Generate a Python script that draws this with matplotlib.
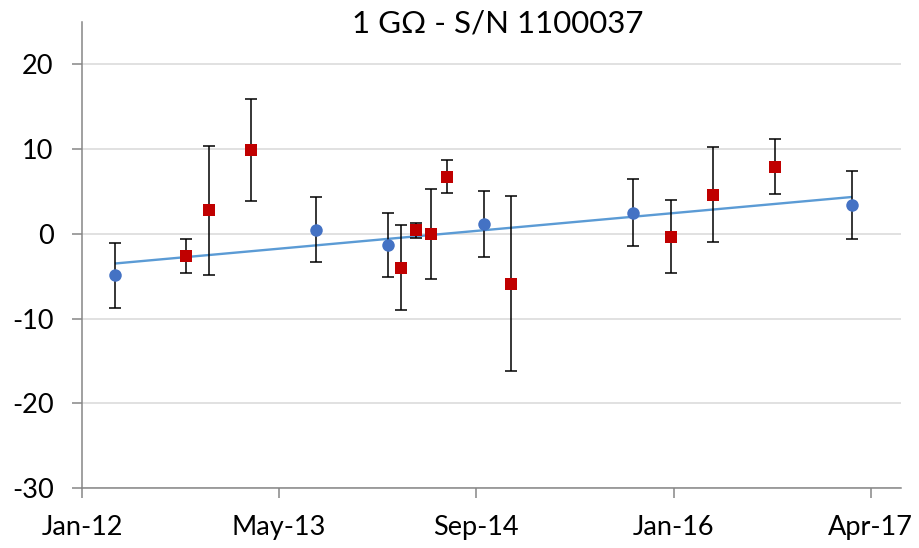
import matplotlib
matplotlib.use("Agg")
import matplotlib.pyplot as plt
import matplotlib.dates as mdates
import numpy as np
import datetime as dt

# ---- data ----
blue_dates = ["2012-04-11", "2013-08-14", "2014-02-05", "2014-09-27", "2015-09-24", "2017-03-11"]
blue_vals = [-4.9, 0.5, -1.33, 1.14, 2.5, 3.4]
blue_err = [3.85, 3.85, 3.75, 3.9, 3.9, 4.0]

red_dates = ["2012-09-30", "2012-11-25", "2013-03-08", "2014-03-09", "2014-04-14", "2014-05-21",
             "2014-06-29", "2014-12-02", "2015-12-26", "2016-04-07", "2016-09-04"]
red_vals = [-2.6, 2.8, 9.9, -4.0, 0.4, 0.0, 6.7, -5.9, -0.35, 4.6, 7.9]
red_err = [2.0, 7.6, 6.0, 5.0, 0.9, 5.3, 1.95, 10.3, 4.3, 5.6, 3.25]

tick_dates = ["2012-01-22", "2013-05-16", "2014-09-08", "2016-01-01", "2017-04-25"]
tick_labels = ["Jan-12", "May-13", "Sep-14", "Jan-16", "Apr-17"]
x_range = ["2012-01-22", "2017-07-07"]
y_ticks = [-30, -20, -10, 0, 10, 20]
y_range = [-30, 25]
title = "1 G\u03a9 - S/N 1100037"

def to_num(ds):
    return mdates.date2num([dt.datetime.strptime(d, "%Y-%m-%d") for d in ds])

plt.rcParams['font.family'] = ['Lato', 'DejaVu Sans']

fig = plt.figure(figsize=(9.2, 5.48), dpi=100)
ax = fig.add_axes([82/920, 1 - 488.3/548, (900.7 - 82)/920, (488.3 - 21.7)/548])

bx = to_num(blue_dates)
rx = to_num(red_dates)

# trendline (linear fit of blue series)
coef = np.polyfit(bx, blue_vals, 1)
tx = np.array([bx.min(), bx.max()])
ax.plot(tx, np.polyval(coef, tx), color="#5B9BD5", lw=1.7, zorder=3, solid_capstyle='butt')

ax.errorbar(bx, blue_vals, yerr=blue_err, fmt='none', ecolor='black', elinewidth=1.1,
            capsize=4.3, capthick=1.1, zorder=4)
ax.errorbar(rx, red_vals, yerr=red_err, fmt='none', ecolor='black', elinewidth=1.1,
            capsize=4.3, capthick=1.1, zorder=4)
ax.plot(bx, blue_vals, 'o', color="#4472C4", markersize=9, markeredgewidth=0, zorder=5)
ax.plot(rx, red_vals, 's', color="#C00000", markersize=8.6, markeredgewidth=0, zorder=5)

ax.set_xlim(*to_num(x_range))
ax.set_ylim(*y_range)
ax.set_xticks(to_num(tick_dates))
ax.set_xticklabels(tick_labels)
ax.set_yticks(y_ticks)
ax.set_yticklabels([str(v) for v in y_ticks])

ax.grid(axis='y', color='#D9D9D9', lw=1.1)
ax.set_axisbelow(True)
for s in ['top', 'right']:
    ax.spines[s].set_visible(False)
for s in ['left', 'bottom']:
    ax.spines[s].set_color('#868686')
    ax.spines[s].set_linewidth(1.1)
ax.tick_params(axis='both', direction='out', length=7.5, width=1.1, color='#868686',
               labelsize=19.5, labelcolor='black')
ax.tick_params(axis='y', pad=13)
ax.tick_params(axis='x', pad=12)

fig.text(498/920, 1 - 32/548, title, ha='center', va='baseline', fontsize=22.5, color='black')

fig.savefig("out.png", dpi=100)
